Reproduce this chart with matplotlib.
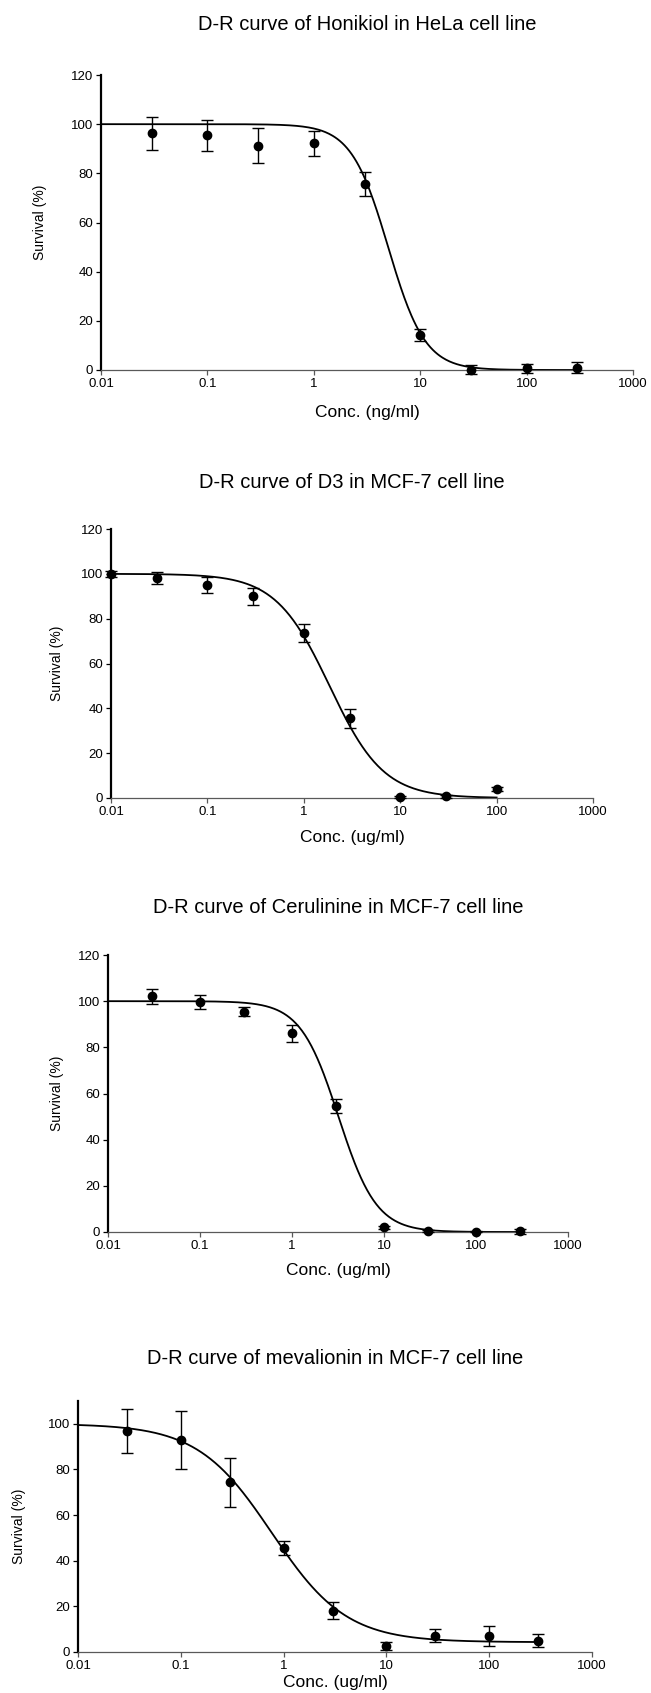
import numpy as np
import matplotlib
matplotlib.use("Agg")
import matplotlib.pyplot as plt
from matplotlib.ticker import FixedLocator, NullLocator

plt.rcParams['font.family'] = ['Liberation Sans', 'DejaVu Sans']

# --- data ---
titles = [
    "D-R curve of Honikiol in HeLa cell line",
    "D-R curve of D3 in MCF-7 cell line",
    "D-R curve of Cerulinine in MCF-7 cell line",
    "D-R curve of mevalionin in MCF-7 cell line",
]
xlabels = ["Conc. (ng/ml)", "Conc. (ug/ml)", "Conc. (ug/ml)", "Conc. (ug/ml)"]

conc1 = [0.03, 0.1, 0.3, 1, 3, 10, 30, 100, 300]
surv1 = [96.3, 95.4, 91.3, 92.2, 75.5, 14.2, 0.2, 0.7, 1.0]
err1 = [6.8, 6.2, 7.0, 5.0, 4.9, 2.3, 1.7, 1.9, 2.3]

conc2 = [0.01, 0.03, 0.1, 0.3, 1, 3, 10, 30, 100]
surv2 = [100.0, 98.0, 95.1, 90.0, 73.6, 35.6, 0.4, 0.7, 3.9]
err2 = [1.2, 2.6, 3.6, 3.8, 3.9, 4.2, 0.5, 0.5, 0.8]

conc3 = [0.03, 0.1, 0.3, 1, 3, 10, 30, 100, 300]
surv3 = [102.1, 99.6, 95.5, 86.1, 54.6, 2.0, 0.4, 0.15, 0.3]
err3 = [3.3, 3.0, 2.0, 3.6, 3.0, 0.5, 0.5, 0.3, 1.2]

conc4 = [0.03, 0.1, 0.3, 1, 3, 10, 30, 100, 300]
surv4 = [96.8, 92.8, 74.4, 45.7, 18.1, 2.6, 7.2, 7.1, 4.9]
err4 = [9.6, 12.6, 10.8, 3.1, 3.8, 1.7, 2.8, 4.4, 2.9]

# fitted 4PL curves: top, bottom, IC50, hill slope, x range
fit_top = [100, 100, 100, 100]
fit_bottom = [0, 0, 0, 4.3]
fit_ic50 = [5.0, 1.85, 3.2, 0.77]
fit_hill = [2.5, 1.55, 2.1, 1.2]
fit_xmax = [300, 100, 300, 300]

ymax = [120, 120, 120, 110]
yticks = [[0, 20, 40, 60, 80, 100, 120]] * 3 + [[0, 20, 40, 60, 80, 100]]
xticks = [0.01, 0.1, 1, 10, 100, 1000]
xticklabels = ["0.01", "0.1", "1", "10", "100", "1000"]

conc = [conc1, conc2, conc3, conc4]
surv = [surv1, surv2, surv3, surv4]
errs = [err1, err2, err3, err4]

# --- layout in pixels (left, right, top, bottom), title y, xlabel y, ylabel x ---
W, H = 651, 1693
boxes = [(101, 633, 75, 370), (111, 593, 529, 798), (108, 568, 955, 1232), (78, 592, 1401, 1652)]
title_y = [24, 482, 908, 1358]
xlab_y = [413, 837, 1270, 1682]
ylab_x = [40, 57, 57, 19]

fig = plt.figure(figsize=(W / 100, H / 100), dpi=100)

for i in range(4):
    l, r, t, b = boxes[i]
    ax = fig.add_axes([l / W, 1 - b / H, (r - l) / W, (b - t) / H])
    ax.set_xscale('log')
    ax.set_xlim(0.01, 1000)
    ax.set_ylim(0, ymax[i])

    xs = np.logspace(-2, np.log10(fit_xmax[i]), 400)
    ys = fit_bottom[i] + (fit_top[i] - fit_bottom[i]) / (1 + (xs / fit_ic50[i]) ** fit_hill[i])
    ax.plot(xs, ys, color='black', lw=1.3, clip_on=False, zorder=2)

    ax.errorbar(conc[i], surv[i], yerr=errs[i], fmt='o', color='black', ms=6,
                ecolor='black', elinewidth=1, capsize=4.5, capthick=1,
                clip_on=False, zorder=3)

    ax.spines['top'].set_visible(False)
    ax.spines['right'].set_visible(False)
    ax.spines['left'].set_linewidth(1.6)
    ax.spines['bottom'].set_linewidth(0.9)
    ax.spines['bottom'].set_color('0.35')

    ax.xaxis.set_major_locator(FixedLocator(xticks))
    ax.xaxis.set_minor_locator(NullLocator())
    ax.set_xticklabels(xticklabels)
    ax.set_yticks(yticks[i])
    ax.tick_params(axis='both', direction='out', length=3.5, width=0.9, labelsize=9.5, pad=2)
    ax.tick_params(axis='x', color='0.35')

    cx = (l + r) / 2 / W
    fig.text(cx, 1 - title_y[i] / H, titles[i], ha='center', va='center', fontsize=14.5)
    fig.text(cx, 1 - xlab_y[i] / H, xlabels[i], ha='center', va='center', fontsize=12.5)
    fig.text(ylab_x[i] / W, 1 - (t + b) / 2 / H, "Survival (%)", ha='center', va='center',
             rotation=90, fontsize=10)

fig.savefig("out.png", dpi=100)
